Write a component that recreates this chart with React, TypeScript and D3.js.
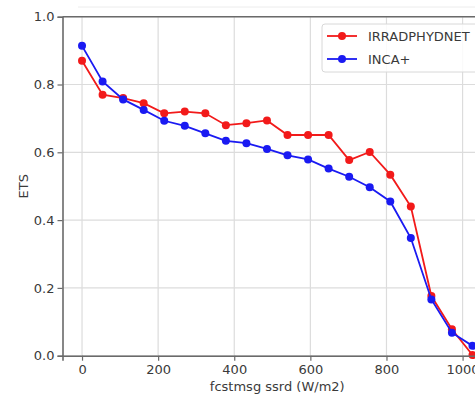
import React, { useRef, useEffect } from 'react'
import * as d3 from 'd3'

// x positions of the bins (W/m2)
const xValues = [0, 54, 108, 162, 216, 270, 324, 378, 432, 486, 540, 594, 648, 702, 756, 810, 864, 918, 972, 1026]
const irradValues = [0.87, 0.77, 0.76, 0.745, 0.715, 0.72, 0.715, 0.68, 0.686, 0.694, 0.651, 0.651, 0.651, 0.577, 0.601, 0.534, 0.44, 0.176, 0.078, 0.002]
const incaValues = [0.914, 0.809, 0.756, 0.725, 0.693, 0.678, 0.656, 0.634, 0.627, 0.61, 0.591, 0.579, 0.552, 0.528, 0.497, 0.455, 0.347, 0.166, 0.068, 0.029]
const seriesNames = ['IRRADPHYDNET', 'INCA+']
const seriesColors = ['#f21a1a', '#1a1af2']
const xTicks = [0, 200, 400, 600, 800, 1000]
const yTicks = [0, 0.2, 0.4, 0.6, 0.8, 1.0]

const W = 475
const H = 399

const App: React.FC = () => {
  const svgRef = useRef<SVGSVGElement>(null)

  useEffect(() => {
    if (!svgRef.current) return
    const svg = d3.select(svgRef.current)
    svg.selectAll('*').remove()

    const font = '"DejaVu Sans", sans-serif'
    const left = 62.5
    const right = 492
    const top = 16.7
    const bottom = 355.7

    const x = d3.scaleLinear().domain([-51.3, 1077.3]).range([left, right])
    const y = d3.scaleLinear().domain([0, 1]).range([bottom, top])

    svg.append('rect').attr('width', W).attr('height', H).attr('fill', '#fff')

    // faint frame line at the top of the screenshot
    svg.append('line')
      .attr('x1', 78).attr('x2', W).attr('y1', 7).attr('y2', 7)
      .attr('stroke', '#ececec').attr('stroke-width', 1)

    // grid
    const grid = svg.append('g')
    xTicks.forEach(t => {
      grid.append('line')
        .attr('x1', x(t)).attr('x2', x(t)).attr('y1', top).attr('y2', bottom)
        .attr('stroke', '#dcdcdc').attr('stroke-width', 1.2)
    })
    yTicks.forEach(t => {
      grid.append('line')
        .attr('x1', left).attr('x2', right).attr('y1', y(t)).attr('y2', y(t))
        .attr('stroke', '#dcdcdc').attr('stroke-width', 1.2)
    })

    // series
    const line = d3.line<number>().x((_d, i) => x(xValues[i])).y(d => y(d))
    ;[irradValues, incaValues].forEach((vals, si) => {
      const g = svg.append('g')
      g.append('path')
        .attr('d', line(vals) || '')
        .attr('fill', 'none')
        .attr('stroke', seriesColors[si])
        .attr('stroke-width', 1.8)
      g.selectAll('circle')
        .data(vals)
        .enter()
        .append('circle')
        .attr('cx', (_d, i) => x(xValues[i]))
        .attr('cy', d => y(d))
        .attr('r', 4)
        .attr('fill', seriesColors[si])
    })

    // axes
    const xAxis = svg.append('g')
      .attr('transform', `translate(0, ${bottom})`)
      .call(d3.axisBottom(x).tickValues(xTicks).tickFormat(d3.format('d')).tickSize(5).tickPadding(4))
    const yAxis = svg.append('g')
      .attr('transform', `translate(${left}, 0)`)
      .call(d3.axisLeft(y).tickValues(yTicks).tickFormat(d3.format('.1f')).tickSize(5).tickPadding(3))

    ;[xAxis, yAxis].forEach(a => {
      a.select('.domain').attr('stroke', '#6a6a6a').attr('stroke-width', 1.6)
      a.selectAll('.tick line').attr('stroke', '#6a6a6a').attr('stroke-width', 1.2)
      a.selectAll('text')
        .style('font-family', font)
        .style('font-size', '13px')
        .attr('fill', '#3a3a3a')
    })

    // top spine
    svg.append('line')
      .attr('x1', left).attr('x2', right).attr('y1', top).attr('y2', top)
      .attr('stroke', '#6a6a6a').attr('stroke-width', 1.6)

    // axis labels
    svg.append('text')
      .attr('x', (left + right) / 2)
      .attr('y', 391)
      .attr('text-anchor', 'middle')
      .style('font-family', font)
      .style('font-size', '13px')
      .attr('fill', '#3a3a3a')
      .text('fcstmsg ssrd (W/m2)')

    svg.append('text')
      .attr('transform', `translate(28, ${(top + bottom) / 2}) rotate(-90)`)
      .attr('text-anchor', 'middle')
      .style('font-family', font)
      .style('font-size', '13px')
      .attr('fill', '#3a3a3a')
      .text('ETS')

    // legend
    const legend = svg.append('g').attr('transform', 'translate(322, 24)')
    legend.append('rect')
      .attr('width', 180).attr('height', 48).attr('rx', 3)
      .attr('fill', 'rgba(255,255,255,0.85)')
      .attr('stroke', '#d8d8d8').attr('stroke-width', 1)
    seriesNames.forEach((name, i) => {
      const item = legend.append('g').attr('transform', `translate(0, ${12 + i * 23})`)
      item.append('line')
        .attr('x1', 5).attr('x2', 35).attr('y1', 0).attr('y2', 0)
        .attr('stroke', seriesColors[i]).attr('stroke-width', 1.8)
      item.append('circle').attr('cx', 20).attr('cy', 0).attr('r', 4).attr('fill', seriesColors[i])
      item.append('text')
        .attr('x', 46).attr('y', 4.5)
        .style('font-family', font)
        .style('font-size', '13px')
        .attr('fill', '#3a3a3a')
        .text(name)
    })
  }, [])

  return (
    <div style={{ position: 'absolute', left: 0, top: 0, width: W, height: H, overflow: 'hidden' }}>
      <svg ref={svgRef} width={W} height={H} style={{ display: 'block' }} />
    </div>
  )
}

export default App
